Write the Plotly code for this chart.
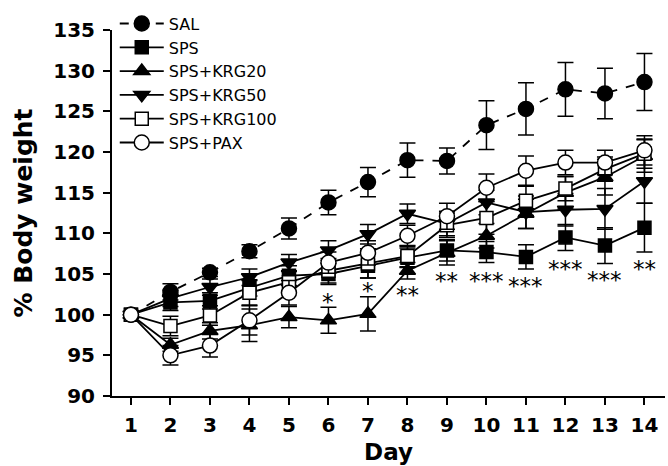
import plotly.graph_objects as go

days = list(range(1, 15))

SAL = [100, 102.8, 105.2, 107.8, 110.6, 113.8, 116.3, 119.0, 118.9, 123.3, 125.3, 127.7, 127.2, 128.6]
SAL_err = [0, 1.0, 0.5, 0.8, 1.3, 1.5, 1.8, 2.1, 1.6, 3.0, 3.2, 3.3, 3.1, 3.5]

SPS = [100, 101.5, 101.7, 103.3, 104.8, 105.0, 106.0, 107.0, 107.9, 107.7, 107.1, 109.5, 108.5, 110.7]
SPS_err = [0, 1.0, 1.0, 1.0, 1.2, 1.3, 1.5, 1.2, 1.3, 1.3, 1.5, 1.6, 2.2, 3.0]

KRG20 = [100, 96.3, 98.0, 98.7, 99.7, 99.3, 100.1, 105.4, 107.6, 109.7, 112.4, 115.0, 116.9, 119.5]
KRG20_err = [0, 0.8, 1.0, 2.0, 1.3, 1.6, 2.1, 1.0, 1.5, 1.5, 1.8, 2.0, 2.2, 2.0]

KRG50 = [100, 102.0, 103.4, 104.6, 106.4, 107.9, 109.9, 112.4, 111.2, 113.8, 112.6, 112.9, 113.0, 116.4]
KRG50_err = [0, 1.0, 1.0, 1.0, 1.0, 1.2, 1.2, 1.2, 1.5, 1.5, 2.0, 2.0, 2.5, 2.7]

KRG100 = [100, 98.6, 99.9, 102.7, 104.0, 105.4, 106.3, 107.2, 111.0, 111.9, 114.0, 115.5, 117.9, 119.8]
KRG100_err = [0, 1.2, 1.2, 1.5, 1.3, 1.5, 1.8, 1.3, 1.5, 2.0, 1.8, 1.5, 1.5, 1.8]

PAX = [100, 95.0, 96.2, 99.3, 102.7, 106.4, 107.6, 109.7, 112.1, 115.6, 117.7, 118.7, 118.7, 120.2]
PAX_err = [0, 1.2, 1.4, 1.8, 1.5, 1.3, 1.5, 1.3, 1.6, 1.7, 1.8, 1.5, 1.5, 1.8]

star_days = [6, 7, 8, 9, 10, 11, 12, 13, 14]
star_text = ["*", "*", "**", "**", "***", "***", "***", "***", "**"]
star_y = [102.3, 103.6, 103.2, 104.9, 104.9, 104.3, 106.4, 105.0, 106.3]

y_ticks = [90, 95, 100, 105, 110, 115, 120, 125, 130, 135]

series = [
    ("SAL", SAL, SAL_err, "circle", "black", "dash"),
    ("SPS", SPS, SPS_err, "square", "black", "solid"),
    ("SPS+KRG20", KRG20, KRG20_err, "triangle-up", "black", "solid"),
    ("SPS+KRG50", KRG50, KRG50_err, "triangle-down", "black", "solid"),
    ("SPS+KRG100", KRG100, KRG100_err, "square", "white", "solid"),
    ("SPS+PAX", PAX, PAX_err, "circle", "white", "solid"),
]
sizes = {"circle": 15, "square": 13, "triangle-up": 14, "triangle-down": 14}

fig = go.Figure()
for name, vals, err, sym, fill, dash in series:
    fig.add_trace(go.Scatter(
        x=days, y=vals, name=name, mode="lines+markers",
        line=dict(color="black", width=1.8, dash=dash),
        marker=dict(symbol=sym, size=sizes[sym], color=fill,
                    line=dict(color="black", width=1.5)),
        error_y=dict(type="data", array=err, visible=True, color="black",
                     thickness=1.5, width=8),
    ))

for d, t, yv in zip(star_days, star_text, star_y):
    fig.add_annotation(x=d, y=yv, text=t, showarrow=False, yshift=-6,
                       font=dict(family="DejaVu Sans", size=23, color="#000000"))

fig.update_layout(
    width=668, height=466,
    margin=dict(l=112, r=3, t=30, b=70, autoexpand=False),
    plot_bgcolor="white", paper_bgcolor="white",
    font=dict(family="DejaVu Sans", color="black"),
    showlegend=True,
    legend=dict(x=0.005, y=1.064, xanchor="left", yanchor="top",
                bgcolor="rgba(0,0,0,0)", font=dict(size=16, family="DejaVu Sans"),
                tracegroupgap=0, itemsizing="trace", itemwidth=44),
    xaxis=dict(range=[0.52, 14.52], tickvals=days, showline=True, linecolor="black",
               linewidth=2, ticks="outside", ticklen=7, tickwidth=2, tickcolor="black",
               showgrid=False, zeroline=False, automargin=False, ticklabelstandoff=3,
               tickfont=dict(family="DejaVu Sans", size=20, color="black", weight="bold"),
               title=dict(text="<b>Day</b>", font=dict(size=23, family="DejaVu Sans"), standoff=8)),
    yaxis=dict(range=[90, 135], tickvals=y_ticks, showline=True, linecolor="black",
               linewidth=2, ticks="outside", ticklen=7, tickwidth=2, tickcolor="black",
               showgrid=False, zeroline=False, automargin=False, ticklabelstandoff=4,
               tickfont=dict(family="DejaVu Sans", size=20, color="black", weight="bold"),
               title=dict(text="<b>% Body weight</b>", font=dict(size=25, family="DejaVu Sans"), standoff=14)),
)

fig.write_html("out.html", config={"displayModeBar": False},
               post_script="document.body.style.margin='0px';")
